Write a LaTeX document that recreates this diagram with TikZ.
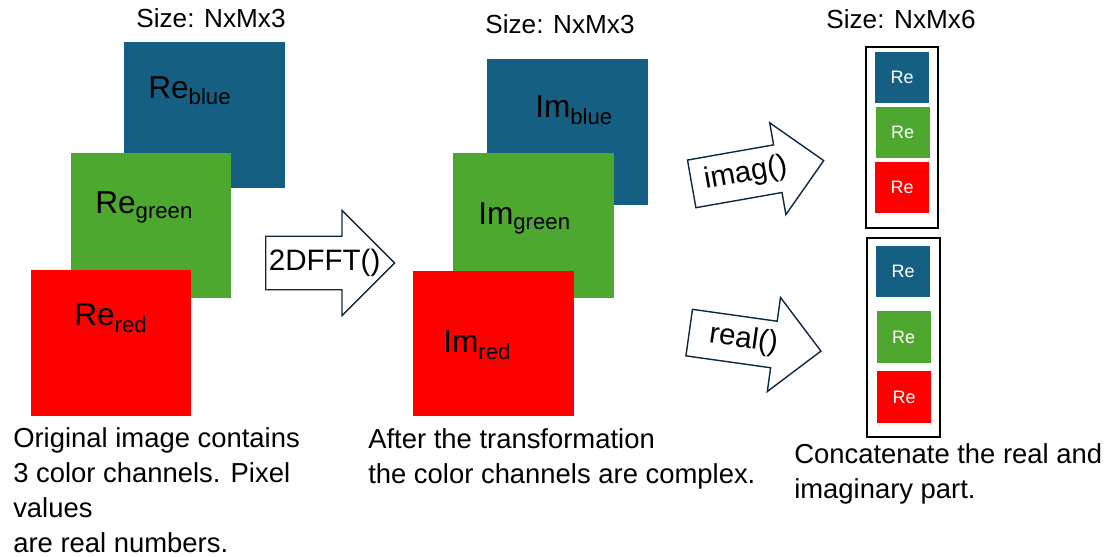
\documentclass[tikz,border=0pt]{standalone}
\usepackage{fontspec}
\setmainfont{Liberation Sans}
\usetikzlibrary{shapes.arrows}
\definecolor{chanBlue}{HTML}{156082}
\definecolor{chanGreen}{HTML}{4EA72E}
\definecolor{chanRed}{HTML}{FF0000}
\definecolor{arrowLine}{HTML}{0E2841}

\begin{document}
\begin{tikzpicture}[x=0.025cm,y=-0.025cm]
	\tikzstyle{chan}=[shape=rectangle,minimum width=4cm,minimum height=3.625cm,inner sep=0pt]
	\tikzstyle{chanText}=[anchor=base west,inner sep=0pt,font=\fontsize{22.5}{27}\selectfont]
	\tikzstyle{small}=[shape=rectangle,minimum width=1.35cm,minimum height=1.275cm,inner sep=0pt,text=white,font=\fontsize{12.8}{15}\selectfont]
	\tikzstyle{frame}=[draw=black,line width=1.4pt,shape=rectangle,inner sep=0pt]
	\tikzstyle{sizeText}=[inner sep=0pt,font=\fontsize{18.6}{22}\selectfont]
	\tikzstyle{caption}=[anchor=north west,align=left,inner sep=0pt,font=\fontsize{19.5}{24.9}\selectfont]
	\tikzstyle{bigArrow}=[draw=arrowLine,line width=1pt,fill=white,shape=single arrow,single arrow tip angle=90,anchor=tail,text height=15pt,text depth=5pt,inner xsep=2pt]

	\useasboundingbox (0,0) rectangle (1118,557);

	\node[sizeText](sizeIn) at (211,18.5) {Size: NxMx3};
	\node[sizeText](sizeFft) at (560,24) {Size: NxMx3};
	\node[sizeText](sizeCat) at (901,19) {Size: NxMx6};

	\node[chan,fill=chanBlue](reBlue) at (204.5,115) {};
	\node[chan,fill=chanGreen](reGreen) at (151,225.5) {};
	\node[chan,fill=chanRed](reRed) at (111,343) {};
	\node[chanText](reBlueTxt) at (148,99) {Re\textsubscript{blue}};
	\node[chanText](reGreenTxt) at (95,214) {Re\textsubscript{green}};
	\node[chanText](reRedTxt) at (74,326) {Re\textsubscript{red}};

	\node[chan,fill=chanBlue](imBlue) at (567.5,132) {};
	\node[chan,fill=chanGreen](imGreen) at (533.5,225.5) {};
	\node[chan,fill=chanRed](imRed) at (493.5,343.5) {};
	\node[chanText](imBlueTxt) at (535,118) {Im\textsubscript{blue}};
	\node[chanText](imGreenTxt) at (478,225) {Im\textsubscript{green}};
	\node[chanText](imRedTxt) at (443,353) {Im\textsubscript{red}};

	\node[bigArrow,minimum height=3.225cm,inner ysep=8.5pt,inner xsep=0pt,single arrow head extend=0.65cm,font=\fontsize{21}{25}\selectfont](fft) at (265,263) {\makebox[0pt]{\hspace*{11pt}2DFFT()}};
	\node[bigArrow,rotate=10,minimum height=3.35cm,inner ysep=6.7pt,single arrow head extend=0.56cm,font=\fontsize{21}{25}\selectfont](imag) at (691,184) {imag()};
	\node[bigArrow,rotate=-8,minimum height=3.325cm,inner ysep=6.2pt,single arrow head extend=0.6cm,font=\fontsize{21}{25}\selectfont](real) at (688.5,332.5) {real()};

	\node[frame,minimum width=1.8cm,minimum height=4.525cm](imagPart) at (902,137.5) {};
	\node[small,fill=chanBlue](imagBlue) at (902,77.5) {Re};
	\node[small,fill=chanGreen](imagGreen) at (902.5,132.5) {Re};
	\node[small,fill=chanRed](imagRed) at (902,187.5) {Re};

	\node[frame,minimum width=1.825cm,minimum height=4.975cm](realPart) at (903.5,337.5) {};
	\node[small,fill=chanBlue](realBlue) at (903,271.5) {Re};
	\node[small,fill=chanGreen](realGreen) at (903.5,337) {Re};
	\node[small,fill=chanRed](realRed) at (904,397) {Re};

	\node[caption](capIn) at (13,427) {Original image contains\\3 color channels. Pixel\\values\\are real numbers.};
	\node[caption](capFft) at (368,428) {After the transformation\\the color channels are complex.};
	\node[caption](capCat) at (794,443) {Concatenate the real and\\imaginary part.};

\end{tikzpicture}
\end{document}
